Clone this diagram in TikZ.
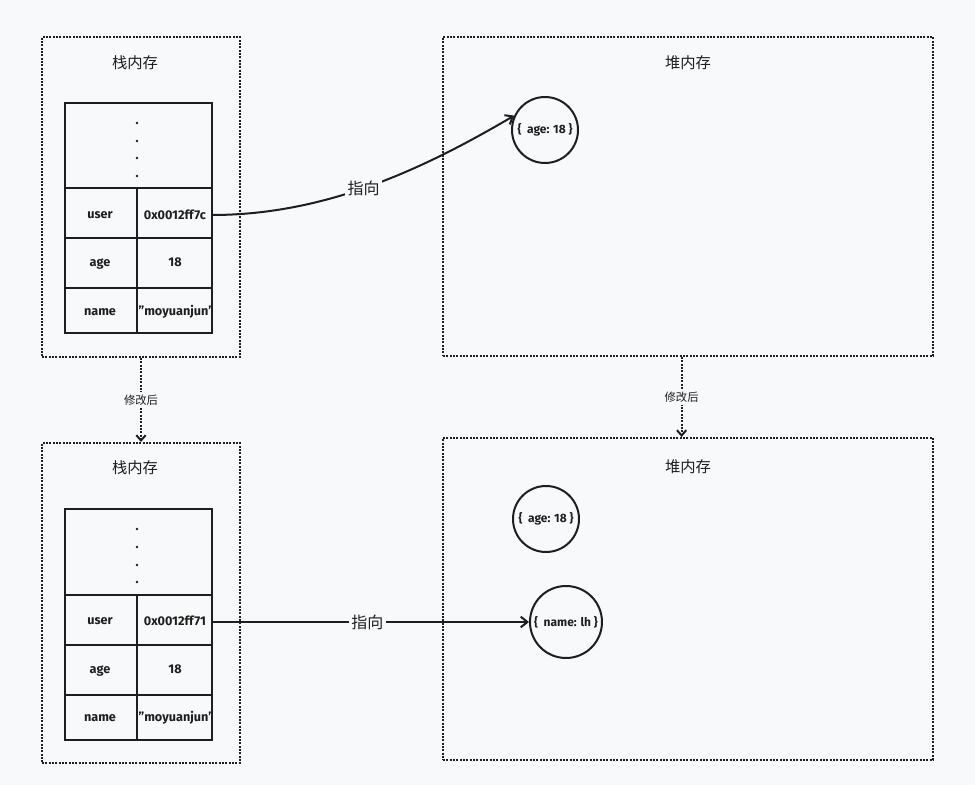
\documentclass[tikz,border=0pt]{standalone}
\usepackage{fontspec}
\setmainfont{Fira Sans}
\newfontfamily\cjk{Noto Sans CJK SC}
\usetikzlibrary{positioning, arrows.meta, fit, calc}

\definecolor{paper}{HTML}{F8F9FA}
\definecolor{ink}{HTML}{1E1E1E}

\begin{document}
\begin{tikzpicture}[
    x=0.75pt, y=-0.75pt,
    membox/.style={rectangle, draw=ink, line width=1.5pt, dash pattern=on 1.4pt off 1.1pt, inner sep=0pt},
    title/.style={font=\cjk\fontsize{11.5}{13}\selectfont, text=ink},
    cell/.style={font=\bfseries\fontsize{9.5}{11}\selectfont, text=ink, inner sep=1pt},
    grid/.style={draw=ink, line width=1.5pt},
    blob/.style={circle, draw=ink, line width=1.5pt, inner sep=0pt, font=\bfseries\fontsize{9}{10}\selectfont, text=ink},
    pointer/.style={draw=ink, line width=1.5pt, -{Straight Barb[length=5pt, width=8pt, line width=1.5pt]}},
    change/.style={draw=ink, line width=1.5pt, dash pattern=on 1.4pt off 1.1pt, -{Straight Barb[length=4pt, width=7pt, line width=1.5pt]}},
    tag/.style={fill=paper, inner sep=2pt, text=ink},
]

\fill[paper] (0,0) rectangle (975,785);
\useasboundingbox (0,0) rectangle (975,785);

%% NODES
    % memory regions
    \coordinate (s1a) at (42,37);   \coordinate (s1b) at (240,357);
    \coordinate (h1a) at (443,37);  \coordinate (h1b) at (933,356);
    \coordinate (s2a) at (42,443);  \coordinate (s2b) at (240,763);
    \coordinate (h2a) at (443,438); \coordinate (h2b) at (933,760);

    \node[membox, fit=(s1a) (s1b)] (stack_old) {};
    \node[membox, fit=(h1a) (h1b)] (heap_old) {};
    \node[membox, fit=(s2a) (s2b)] (stack_new) {};
    \node[membox, fit=(h2a) (h2b)] (heap_new) {};

    \node[title] (stack_old_label) at (135,63) {栈内存};
    \node[title] (heap_old_label) at (688,63) {堆内存};
    \node[title] (stack_new_label) at (135,468) {栈内存};
    \node[title] (heap_new_label) at (688,467) {堆内存};

    % old stack table
    \draw[grid] (65,103) rectangle (212,333);
    \draw[grid] (65,188) -- (212,188);
    \draw[grid] (65,238) -- (212,238);
    \draw[grid] (65,288) -- (212,288);
    \draw[grid] (137,188) -- (137,333);
    \foreach \y in {123,141,158,176}
        \fill[ink] (137,\y) circle (1.4);

    \node[cell] (user_old) at (100,215) {user};
    \node[cell] (addr_old) at (175,215) {0x0012ff7c};
    \node[cell] (age_old) at (100,264) {age};
    \node[cell] (agev_old) at (175,262) {18};
    \node[cell] (name_old) at (100,312) {name};
    \node[cell] (namev_old) at (175,312) {\symbol{34}moyuanjun\symbol{39}};
    \coordinate (ptr_old) at (212,215);

    % new stack table
    \draw[grid] (65,509) rectangle (212,740);
    \draw[grid] (65,595) -- (212,595);
    \draw[grid] (65,645) -- (212,645);
    \draw[grid] (65,695) -- (212,695);
    \draw[grid] (137,595) -- (137,740);
    \foreach \y in {529,547,565,582}
        \fill[ink] (137,\y) circle (1.4);

    \node[cell] (user_new) at (100,621) {user};
    \node[cell] (addr_new) at (175,621) {0x0012ff71};
    \node[cell] (age_new) at (100,671) {age};
    \node[cell] (agev_new) at (175,669) {18};
    \node[cell] (name_new) at (100,718) {name};
    \node[cell] (namev_new) at (175,718) {\symbol{34}moyuanjun\symbol{39}};
    \coordinate (ptr_new) at (212,622);

    % heap objects
    \node[blob, minimum size=49.5pt] (obj_age_old) at (545,130) {\{\ \ age: 18 \}};
    \node[blob, minimum size=49.5pt] (obj_age_new) at (546,519) {\{\ \ age: 18 \}};
    \node[blob, minimum size=54pt] (obj_name) at (566,622) {\{\ \ name: lh \}};

%% CONNECTORS
    \draw[pointer] (ptr_old) .. controls (330,215) and (430,165) .. (obj_age_old.155)
        node[tag, pos=0.46, font=\cjk\fontsize{12}{14}\selectfont] (point_old) {指向};
    \draw[pointer] (ptr_new) -- (obj_name)
        node[tag, pos=0.49, font=\cjk\fontsize{12}{14}\selectfont] (point_new) {指向};

    \draw[change] (stack_old.south) -- (stack_new.north)
        node[tag, midway, font=\cjk\fontsize{8.5}{10}\selectfont] (change_left) {修改后};
    \draw[change] ($(heap_old.south west)!0.487!(heap_old.south east)$) -- ($(heap_new.north west)!0.487!(heap_new.north east)$)
        node[tag, midway, font=\cjk\fontsize{8.5}{10}\selectfont] (change_right) {修改后};

\end{tikzpicture}
\end{document}
